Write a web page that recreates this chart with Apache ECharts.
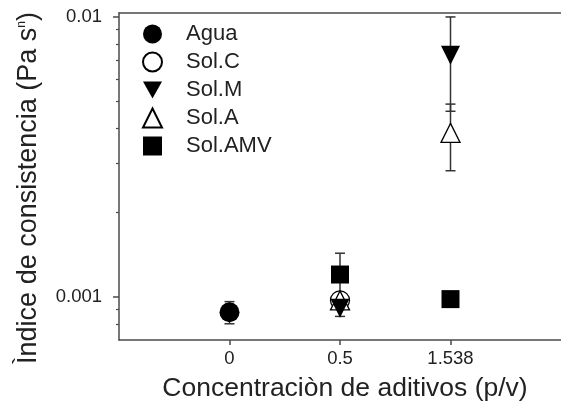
<!DOCTYPE html>
<html>
<head>
<meta charset="utf-8">
<script src="https://cdn.jsdelivr.net/npm/echarts@6/dist/echarts.min.js"></script>
<style>
  html, body { margin: 0; padding: 0; background: #fff; }
  #chart { width: 561px; height: 409px; }
</style>
</head>
<body>
<div id="chart"></div>
<script>
// x positions 1,2,3 stand for the concentrations below
const xLabels = ['0', '0.5', '1.538'];

const aguaX = [1];
const aguaY = [0.00088];
const aguaErr = [0.00008];

const solCX = [2];
const solCY = [0.00097];
const solCErr = [0];

const solMX = [2, 3];
const solMY = [0.00091, 0.0073];
const solMErr = [0.00006, 0.0027];

const solAX = [2, 3];
const solAY = [0.00097, 0.00385];
const solAErr = [0.00004, 0.00103];

const solAMVX = [2, 3];
const solAMVY = [0.0012, 0.00098];
const solAMVErr = [0.00023, 0];

const yMajor = [0.001, 0.01];
const yMinor = [0.0008, 0.0009, 0.002, 0.003, 0.004, 0.005, 0.006, 0.007, 0.008, 0.009];

const axisColor = '#4a4a4a';
const textColor = '#222';
const font = 'Arial, "Liberation Sans", sans-serif';

const zip = (xs, ys) => xs.map((x, i) => [x, ys[i]]);
const errRows = [];
[[aguaX, aguaY, aguaErr], [solCX, solCY, solCErr], [solMX, solMY, solMErr],
 [solAX, solAY, solAErr], [solAMVX, solAMVY, solAMVErr]].forEach(([xs, ys, es]) => {
  xs.forEach((x, i) => {
    if (es[i] > 0) errRows.push([x, ys[i] - es[i], ys[i] + es[i]]);
  });
});

const chart = echarts.init(document.getElementById('chart'));

const filled = { color: '#000', opacity: 1 };
const hollow = { color: '#fff', borderColor: '#000', borderWidth: 1.3, opacity: 1 };

const option = {
  animation: false,
  backgroundColor: '#fff',
  textStyle: { fontFamily: font },
  grid: { left: 119, top: 13, width: 445, height: 327 },
  legend: {
    orient: 'vertical',
    left: 137,
    top: 18,
    itemWidth: 19,
    itemHeight: 19,
    itemGap: 6,
    textStyle: { fontSize: 22, color: textColor, fontFamily: font, padding: [0, 0, 0, 19] },
    data: [
      'Agua',
      'Sol.C',
      { name: 'Sol.M', icon: 'path://M0,0L10,0L5,9Z' },
      'Sol.A',
      'Sol.AMV'
    ]
  },
  graphic: [{
    type: 'text',
    x: 29,
    y: 188,
    rotation: Math.PI / 2,
    style: {
      text: '{a|Ìndice de consistencia (Pa s}{b|n}{a|)}',
      align: 'center',
      verticalAlign: 'middle',
      fill: textColor,
      rich: {
        a: { fontSize: 27, fontFamily: font, fill: textColor },
        b: { fontSize: 12, fontFamily: font, fill: textColor, verticalAlign: 'top', padding: [0, 0, 14, 0] }
      }
    }
  }],
  xAxis: [{
    type: 'value',
    min: 0,
    max: 4,
    name: 'Concentraciòn de aditivos (p/v)',
    nameLocation: 'middle',
    nameGap: 35,
    nameTextStyle: { fontSize: 26.5, color: textColor, fontFamily: font, padding: [0, 0, 0, 10] },
    splitLine: { show: false },
    axisLine: { lineStyle: { color: axisColor, width: 1.5 } },
    axisTick: { show: true, length: 5, customValues: [1, 2, 3], lineStyle: { color: axisColor, width: 1.5 } },
    axisLabel: {
      customValues: [1, 2, 3],
      margin: 9,
      fontSize: 18.5,
      color: textColor,
      formatter: v => xLabels[Math.round(v) - 1] || ''
    }
  }, {
    type: 'value',
    position: 'top',
    min: 0,
    max: 4,
    splitLine: { show: false },
    axisLine: { lineStyle: { color: axisColor, width: 1.5 } },
    axisTick: { show: false },
    axisLabel: { show: false }
  }],
  yAxis: [{
    type: 'log',
    min: 0.0007,
    max: 0.01033,
    splitLine: { show: false },
    axisLine: { show: true, lineStyle: { color: axisColor, width: 1.5 } },
    axisTick: { show: true, length: 6, customValues: yMajor, lineStyle: { color: axisColor, width: 1.5 } },
    axisLabel: {
      customValues: yMajor,
      margin: 17,
      fontSize: 18.5,
      color: textColor,
      formatter: v => String(+(+v).toPrecision(3))
    }
  }, {
    type: 'log',
    position: 'left',
    min: 0.0007,
    max: 0.01033,
    splitLine: { show: false },
    axisLine: { show: false },
    axisTick: { show: true, length: 3, customValues: yMinor, lineStyle: { color: axisColor, width: 1.2 } },
    axisLabel: { show: false }
  }],
  series: [
    {
      type: 'custom',
      name: 'err',
      z: 1,
      data: errRows,
      renderItem: (params, api) => {
        const lo = api.coord([api.value(0), api.value(1)]);
        const hi = api.coord([api.value(0), api.value(2)]);
        const cap = 5;
        const st = { stroke: '#333', lineWidth: 1.5 };
        return {
          type: 'group',
          children: [
            { type: 'line', shape: { x1: lo[0], y1: lo[1], x2: hi[0], y2: hi[1] }, style: st },
            { type: 'line', shape: { x1: lo[0] - cap, y1: lo[1], x2: lo[0] + cap, y2: lo[1] }, style: st },
            { type: 'line', shape: { x1: hi[0] - cap, y1: hi[1], x2: hi[0] + cap, y2: hi[1] }, style: st }
          ]
        };
      }
    },
    {
      name: 'Agua', type: 'scatter', z: 3, symbol: 'circle', symbolSize: 20,
      itemStyle: filled, data: zip(aguaX, aguaY)
    },
    {
      name: 'Sol.C', type: 'scatter', z: 3, symbol: 'circle', symbolSize: 19,
      itemStyle: hollow, data: zip(solCX, solCY)
    },
    {
      name: 'Sol.M', type: 'scatter', z: 4, symbol: 'triangle', symbolRotate: 180, symbolSize: 19,
      itemStyle: filled, data: zip(solMX, solMY)
    },
    {
      name: 'Sol.A', type: 'scatter', z: 3, symbol: 'triangle', symbolSize: 19,
      itemStyle: hollow, data: zip(solAX, solAY)
    },
    {
      name: 'Sol.AMV', type: 'scatter', z: 3, symbol: 'rect', symbolSize: 18,
      itemStyle: filled, data: zip(solAMVX, solAMVY)
    }
  ]
};

chart.setOption(option);
</script>
</body>
</html>
